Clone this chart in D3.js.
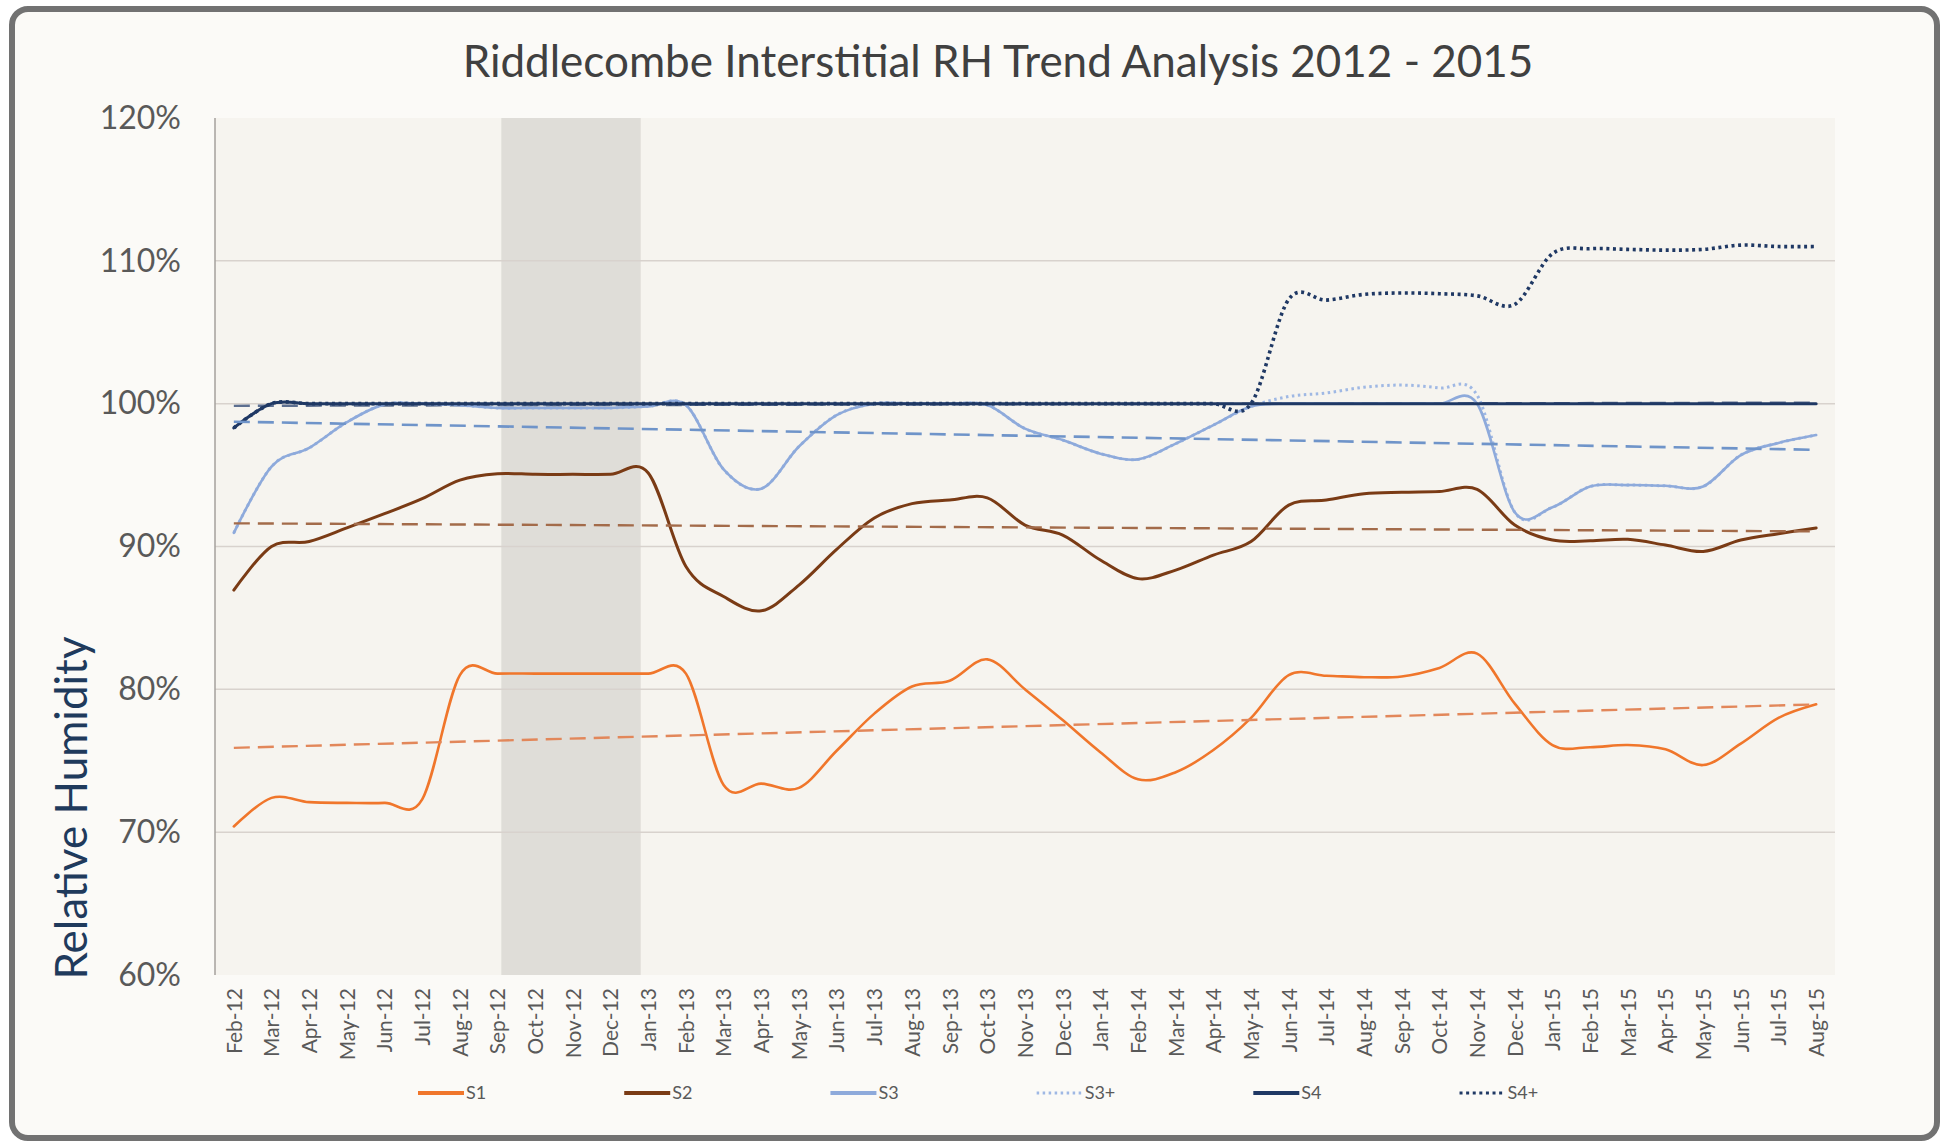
<!DOCTYPE html>
<html>
<head>
<meta charset="utf-8">
<script src="https://cdn.jsdelivr.net/npm/d3@7"></script>
<style>
  html, body { margin: 0; padding: 0; background: #ffffff; }
  svg { display: block; }
  text { font-family: Lato, "Noto Sans", sans-serif; }
</style>
</head>
<body>
<svg id="chart" width="1948" height="1143"></svg>
<script>
// ---- data ---------------------------------------------------------------
const months = ["Feb-12","Mar-12","Apr-12","May-12","Jun-12","Jul-12","Aug-12","Sep-12","Oct-12","Nov-12","Dec-12",
  "Jan-13","Feb-13","Mar-13","Apr-13","May-13","Jun-13","Jul-13","Aug-13","Sep-13","Oct-13","Nov-13","Dec-13",
  "Jan-14","Feb-14","Mar-14","Apr-14","May-14","Jun-14","Jul-14","Aug-14","Sep-14","Oct-14","Nov-14","Dec-14",
  "Jan-15","Feb-15","Mar-15","Apr-15","May-15","Jun-15","Jul-15","Aug-15"];

const s1 = [70.4, 72.4, 72.1, 72.05, 72.05, 72.3, 81.0, 81.1, 81.1, 81.1, 81.1,
  81.1, 81.1, 73.3, 73.4, 73.1, 75.7, 78.3, 80.2, 80.6, 82.1, 80.0, 77.85,
  75.6, 73.7, 74.2, 75.75, 78.0, 81.0, 80.95, 80.85, 80.9, 81.5, 82.5, 79.0,
  76.1, 75.95, 76.1, 75.8, 74.7, 76.2, 78.0, 78.95];

const s2 = [86.95, 90.0, 90.35, 91.3, 92.3, 93.35, 94.65, 95.1, 95.05, 95.05, 95.05,
  95.15, 88.6, 86.5, 85.5, 87.3, 89.8, 92.0, 93.0, 93.25, 93.4, 91.5, 90.8,
  89.05, 87.75, 88.35, 89.4, 90.35, 92.9, 93.25, 93.7, 93.8, 93.85, 94.0, 91.5,
  90.45, 90.4, 90.5, 90.1, 89.65, 90.45, 90.9, 91.3];

const s3 = [90.95, 95.6, 96.9, 98.7, 99.95, 100, 99.9, 99.7, 99.7, 99.7, 99.7,
  99.8, 99.9, 95.4, 94.05, 97.0, 99.2, 100, 100, 100, 99.9, 98.25, 97.45,
  96.5, 96.1, 97.2, 98.5, 99.8, 100, 100, 100, 100, 100, 100, 92.4,
  92.75, 94.2, 94.3, 94.25, 94.2, 96.4, 97.25, 97.8];

const s3plus = [90.95, 95.6, 96.9, 98.7, 99.95, 100, 99.9, 99.7, 99.7, 99.7, 99.7,
  99.8, 99.9, 95.4, 94.05, 97.0, 99.2, 100, 100, 100, 99.9, 98.25, 97.45,
  96.5, 96.1, 97.2, 98.5, 99.8, 100.5, 100.75, 101.15, 101.3, 101.1, 100.6, 92.4,
  92.75, 94.2, 94.3, 94.25, 94.2, 96.4, 97.25, 97.8];

const s4 = [98.3, 100, 100, 100, 100, 100, 100, 100, 100, 100, 100,
  100, 100, 100, 100, 100, 100, 100, 100, 100, 100, 100, 100,
  100, 100, 100, 100, 100, 100, 100, 100, 100, 100, 100, 100,
  100, 100, 100, 100, 100, 100, 100, 100];

const s4plus = [98.3, 100, 100, 100, 100, 100, 100, 100, 100, 100, 100,
  100, 100, 100, 100, 100, 100, 100, 100, 100, 100, 100, 100,
  100, 100, 100, 100, 100, 107.3, 107.25, 107.65, 107.75, 107.7, 107.55, 106.95,
  110.5, 110.85, 110.8, 110.75, 110.8, 111.1, 111.0, 111.0];

const yTicks = [60, 70, 80, 90, 100, 110, 120];
const shadeStart = "Sep-12", shadeEnd = "Dec-12";

const seriesNames = ["S1", "S2", "S3", "S3+", "S4", "S4+"];
const seriesValues = [s1, s2, s3, s3plus, s4, s4plus];
const seriesColors = ["#f0762b", "#7a3b15", "#8eaadb", "#9fb8e4", "#1f3864", "#1f3864"];
const seriesDash   = [null, null, null, "2.5,3.5", null, "3,3.6"];
const seriesWidth  = [2.6, 3, 2.6, 3, 3, 3.6];
const trendColors  = {S1: "#e2875a", S2: "#a36b4a", S3: "#6f94c9", S4: "#5d6f90"};

// ---- layout --------------------------------------------------------------
const W = 1948, H = 1143;
const plot = {left: 215, right: 1835, top: 118, bottom: 975};
const svg = d3.select("#chart");

svg.append("rect").attr("width", W).attr("height", H).attr("fill", "#ffffff");
svg.append("rect")
  .attr("x", 12).attr("y", 9).attr("width", 1925).attr("height", 1129)
  .attr("rx", 16).attr("ry", 16)
  .attr("fill", "#fbfaf7").attr("stroke", "#727272").attr("stroke-width", 6);

const x = d3.scalePoint().domain(months).range([plot.left, plot.right]).padding(0.5);
const step = x.step();
const y = d3.scaleLinear().domain([60, 120]).range([plot.bottom, plot.top]);

// plot area background
svg.append("rect")
  .attr("x", plot.left).attr("y", plot.top)
  .attr("width", plot.right - plot.left).attr("height", plot.bottom - plot.top)
  .attr("fill", "#f6f4ef");

// shaded period
const sx0 = x(shadeStart) + 0.1 * step, sx1 = x(shadeEnd) + 0.8 * step;
svg.append("rect")
  .attr("x", sx0).attr("y", plot.top)
  .attr("width", sx1 - sx0).attr("height", plot.bottom - plot.top)
  .attr("fill", "#dfddd8");

// horizontal gridlines
svg.append("g").selectAll("line")
  .data(yTicks.filter(d => d > 60 && d < 120))
  .join("line")
  .attr("x1", plot.left).attr("x2", plot.right)
  .attr("y1", d => y(d)).attr("y2", d => y(d))
  .attr("stroke", "#d8d2cd").attr("stroke-width", 1.5);

// vertical axis line
svg.append("line")
  .attr("x1", plot.left).attr("x2", plot.left)
  .attr("y1", plot.top).attr("y2", plot.bottom)
  .attr("stroke", "#a5a09c").attr("stroke-width", 1.5);

// y axis labels
const yAxis = svg.append("g")
  .attr("transform", `translate(${plot.left},0)`)
  .call(d3.axisLeft(y).tickValues(yTicks).tickFormat(d => d + "%").tickSize(0).tickPadding(34));
yAxis.select(".domain").remove();
yAxis.selectAll("text")
  .attr("font-family", "Lato, 'Noto Sans', sans-serif")
  .attr("font-size", 32).attr("fill", "#595959");

// x axis labels (rotated)
const xAxis = svg.append("g")
  .attr("transform", `translate(0,${plot.bottom})`)
  .call(d3.axisBottom(x).tickSize(0));
xAxis.select(".domain").remove();
xAxis.selectAll("text")
  .attr("font-family", "Lato, 'Noto Sans', sans-serif")
  .attr("font-size", 21).attr("fill", "#595959")
  .attr("transform", "rotate(-90)")
  .attr("text-anchor", "end")
  .attr("x", -13).attr("y", 0).attr("dy", "0.35em");

// axis title
svg.append("text")
  .attr("transform", "translate(72,808) rotate(-90)")
  .attr("text-anchor", "middle").attr("dy", "0.35em")
  .attr("font-size", 44).attr("fill", "#1f3a5c")
  .text("Relative Humidity");

// chart title
svg.append("text")
  .attr("x", 998).attr("y", 77)
  .attr("text-anchor", "middle")
  .attr("font-size", 44).attr("fill", "#404040")
  .text("Riddlecombe Interstitial RH Trend Analysis 2012 - 2015");

// ---- linear trendlines (least squares over month index) --------------------
function linearFit(vals) {
  const n = vals.length;
  const mx = (n - 1) / 2;
  const my = d3.mean(vals);
  let sxy = 0, sxx = 0;
  vals.forEach((v, i) => { sxy += (i - mx) * (v - my); sxx += (i - mx) * (i - mx); });
  const b = sxy / sxx;
  return i => my + b * (i - mx);
}

const straight = d3.line().x(d => x(months[d.i])).y(d => y(d.v));
function drawTrend(group, name, vals, width) {
  const f = linearFit(vals);
  const ends = [{i: 0, v: f(0)}, {i: vals.length - 1, v: f(vals.length - 1)}];
  group.append("path")
    .attr("d", straight(ends))
    .attr("fill", "none")
    .attr("stroke", trendColors[name])
    .attr("stroke-width", width)
    .attr("stroke-dasharray", "16,8");
}

// S4 trend sits underneath the series lines
const trendUnder = svg.append("g");
drawTrend(trendUnder, "S4", s4, 2.4);

// ---- series lines ----------------------------------------------------------
const smooth = d3.line()
  .x((d, i) => x(months[i]))
  .y(d => y(d))
  .curve(d3.curveCardinal.tension(0));

const drawOrder = [0, 1, 3, 2, 5, 4];
const linesGroup = svg.append("g");
drawOrder.forEach(k => {
  linesGroup.append("path")
    .attr("d", smooth(seriesValues[k]))
    .attr("fill", "none")
    .attr("stroke", seriesColors[k])
    .attr("stroke-width", seriesWidth[k])
    .attr("stroke-dasharray", seriesDash[k])
    .attr("stroke-linejoin", "round")
    .attr("stroke-linecap", seriesDash[k] ? "butt" : "round");
});

// remaining trendlines drawn over the series
const trendOver = svg.append("g");
drawTrend(trendOver, "S1", s1, 2.4);
drawTrend(trendOver, "S2", s2, 2.4);
drawTrend(trendOver, "S3", s3, 2.6);

// ---- legend ----------------------------------------------------------------
const legend = svg.append("g").attr("transform", "translate(0,1093)");
let lx = 418;
seriesNames.forEach((name, k) => {
  legend.append("line")
    .attr("x1", lx).attr("x2", lx + 46).attr("y1", 0).attr("y2", 0)
    .attr("stroke", seriesColors[k])
    .attr("stroke-width", seriesDash[k] ? 3 : 4)
    .attr("stroke-dasharray", seriesDash[k]);
  const t = legend.append("text")
    .attr("x", lx + 48).attr("y", 0).attr("dy", "0.35em")
    .attr("font-size", 18).attr("fill", "#595959")
    .text(name);
  const tw = t.node().getComputedTextLength();
  lx += 48 + tw + 138;
});
</script>
</body>
</html>
